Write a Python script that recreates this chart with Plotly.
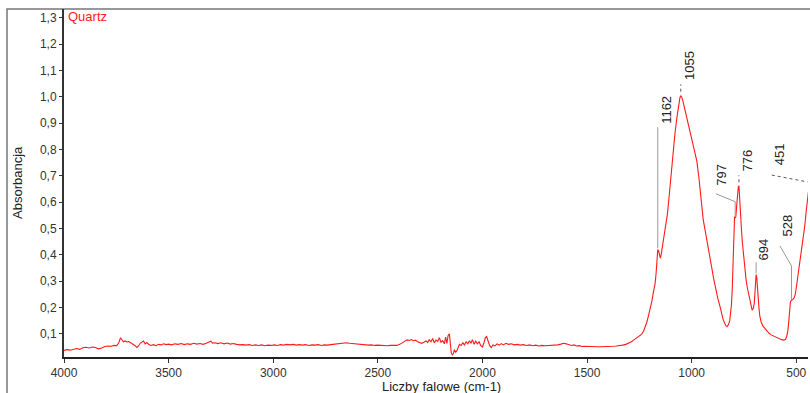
import plotly.graph_objects as go

# Quartz FTIR absorbance spectrum
wavenumber = [
    4000, 3985, 3970, 3955, 3940, 3925, 3910, 3895, 3880, 3865, 3850, 3835, 3820, 3805, 3790, 3775,
    3760, 3748, 3738, 3730, 3724, 3716, 3708, 3700, 3690, 3680, 3670, 3660, 3652, 3644, 3636, 3628,
    3620, 3612, 3604, 3596, 3585, 3572, 3560, 3548, 3536, 3524, 3512, 3500, 3485, 3470, 3455, 3440,
    3425, 3410, 3395, 3380, 3365, 3350, 3335, 3320, 3305, 3298, 3290, 3278, 3265, 3250, 3235, 3220,
    3205, 3190, 3175, 3160, 3145, 3130, 3115, 3100, 3085, 3070, 3055, 3040, 3025, 3010, 2995, 2980,
    2965, 2950, 2935, 2920, 2905, 2890, 2875, 2860, 2845, 2830, 2815, 2800, 2785, 2770, 2755, 2740,
    2725, 2710, 2695, 2680, 2665, 2650, 2635, 2620, 2605, 2590, 2575, 2560, 2545, 2530, 2515, 2500,
    2485, 2470, 2455, 2440, 2425, 2410, 2395, 2380, 2370, 2360, 2350, 2340, 2330, 2320, 2310, 2300,
    2290, 2280, 2270, 2262, 2254, 2246, 2238, 2230, 2222, 2214, 2206, 2198, 2190, 2182, 2176, 2170,
    2164, 2158, 2153, 2149, 2144, 2139, 2134, 2128, 2122, 2116, 2110, 2102, 2094, 2086, 2078, 2070,
    2062, 2055, 2048, 2040, 2032, 2024, 2016, 2008, 2000, 1992, 1986, 1980, 1974, 1966, 1958, 1950,
    1940, 1930, 1920, 1910, 1900, 1888, 1876, 1862, 1848, 1834, 1820, 1805, 1790, 1775, 1760, 1745,
    1730, 1715, 1700, 1685, 1670, 1655, 1640, 1625, 1612, 1600, 1588, 1575, 1562, 1550, 1537, 1524,
    1510, 1495, 1480, 1465, 1450, 1435, 1420, 1405, 1390, 1375, 1360, 1345, 1330, 1315, 1300, 1288,
    1276, 1264, 1252, 1240, 1230, 1222, 1214, 1206, 1198, 1190, 1182, 1175, 1170, 1166, 1162, 1158,
    1154, 1150, 1146, 1140, 1132, 1124, 1116, 1108, 1100, 1090, 1080, 1070, 1062, 1056, 1052, 1048,
    1042, 1035, 1025, 1015, 1005, 995, 985, 975, 965, 955, 945, 935, 925, 915, 905, 895,
    885, 875, 865, 857, 850, 842, 836, 830, 824, 818, 814, 810, 806, 802, 799, 797,
    795, 792, 789, 785, 781, 777, 774, 771, 767, 763, 758, 752, 746, 740, 734, 728,
    722, 716, 711, 706, 701, 698, 695, 692, 689, 686, 682, 678, 674, 668, 660, 650,
    640, 630, 620, 610, 600, 590, 580, 570, 560, 552, 546, 540, 535, 531, 528, 524,
    520, 515, 510, 505, 500, 492, 484, 476, 468, 460, 452, 446, 442,
]
absorbance = [
    0.037, 0.040, 0.038, 0.042, 0.044, 0.041, 0.047, 0.049, 0.046, 0.050, 0.048, 0.043, 0.046, 0.052, 0.054, 0.053,
    0.056, 0.055, 0.066, 0.085, 0.078, 0.070, 0.073, 0.069, 0.071, 0.066, 0.062, 0.055, 0.048, 0.054, 0.064, 0.068,
    0.073, 0.062, 0.067, 0.060, 0.056, 0.059, 0.055, 0.060, 0.058, 0.062, 0.059, 0.061, 0.058, 0.062, 0.060, 0.063,
    0.059, 0.062, 0.060, 0.064, 0.061, 0.063, 0.060, 0.064, 0.068, 0.072, 0.065, 0.066, 0.063, 0.066, 0.062, 0.065,
    0.061, 0.063, 0.060, 0.058, 0.059, 0.057, 0.059, 0.056, 0.058, 0.056, 0.058, 0.055, 0.057, 0.056, 0.058, 0.056,
    0.059, 0.057, 0.060, 0.058, 0.060, 0.057, 0.059, 0.057, 0.059, 0.056, 0.058, 0.057, 0.059, 0.056, 0.058, 0.057,
    0.059, 0.060, 0.062, 0.063, 0.065, 0.066, 0.064, 0.063, 0.061, 0.060, 0.058, 0.059, 0.057, 0.058, 0.056, 0.057,
    0.056, 0.057, 0.055, 0.056, 0.057, 0.056, 0.060, 0.066, 0.072, 0.077, 0.075, 0.078, 0.074, 0.076, 0.070, 0.068,
    0.064, 0.068, 0.073, 0.067, 0.078, 0.070, 0.082, 0.066, 0.076, 0.071, 0.085, 0.068, 0.074, 0.062, 0.088, 0.064,
    0.094, 0.100, 0.060, 0.028, 0.020, 0.024, 0.040, 0.030, 0.036, 0.052, 0.060, 0.056, 0.066, 0.058, 0.070, 0.062,
    0.074, 0.064, 0.078, 0.060, 0.072, 0.062, 0.070, 0.055, 0.050, 0.068, 0.086, 0.090, 0.072, 0.056, 0.048, 0.058,
    0.054, 0.062, 0.057, 0.063, 0.058, 0.064, 0.060, 0.062, 0.058, 0.060, 0.057, 0.059, 0.056, 0.058, 0.055, 0.057,
    0.054, 0.056, 0.055, 0.056, 0.055, 0.057, 0.058, 0.061, 0.064, 0.062, 0.059, 0.056, 0.058, 0.054, 0.055, 0.052,
    0.053, 0.052, 0.052, 0.051, 0.051, 0.051, 0.051, 0.052, 0.052, 0.053, 0.054, 0.055, 0.057, 0.060, 0.064, 0.070,
    0.077, 0.083, 0.090, 0.098, 0.110, 0.125, 0.145, 0.170, 0.195, 0.225, 0.262, 0.290, 0.330, 0.385, 0.420, 0.415,
    0.395, 0.388, 0.400, 0.430, 0.470, 0.510, 0.555, 0.620, 0.690, 0.790, 0.860, 0.925, 0.970, 0.998, 1.005, 1.000,
    0.985, 0.960, 0.925, 0.895, 0.862, 0.825, 0.790, 0.755, 0.690, 0.600, 0.535, 0.490, 0.440, 0.400, 0.355, 0.310,
    0.270, 0.235, 0.205, 0.175, 0.155, 0.140, 0.130, 0.128, 0.135, 0.150, 0.175, 0.210, 0.270, 0.360, 0.450, 0.530,
    0.545, 0.540, 0.545, 0.585, 0.630, 0.660, 0.662, 0.630, 0.560, 0.510, 0.450, 0.400, 0.345, 0.305, 0.275, 0.250,
    0.225, 0.205, 0.190, 0.195, 0.215, 0.250, 0.300, 0.325, 0.315, 0.270, 0.229, 0.195, 0.166, 0.145, 0.130, 0.120,
    0.110, 0.102, 0.096, 0.092, 0.088, 0.084, 0.080, 0.078, 0.076, 0.078, 0.090, 0.113, 0.155, 0.200, 0.222, 0.226,
    0.228, 0.232, 0.237, 0.250, 0.275, 0.320, 0.360, 0.410, 0.460, 0.507, 0.570, 0.625, 0.640,
]

# Axis ticks
x_ticks = [4000, 3500, 3000, 2500, 2000, 1500, 1000, 500]
y_ticks = [0.1, 0.2, 0.3, 0.4, 0.5, 0.6, 0.7, 0.8, 0.9, 1.0, 1.1, 1.2, 1.3]

# Peak labels: label text, label anchor (wavenumber, absorbance), leader path, dotted?
peak_labels = ["1162", "1055", "797", "776", "694", "528", "451"]
label_anchor = [(1118, 0.890), (1008, 1.055), (855, 0.655), (731, 0.709), (659, 0.371), (543, 0.463), (579, 0.732)]
leaders = [
    [(1162, 0.425), (1162, 0.885)],
    [(1052, 1.02), (1052, 1.048)],
    [(884, 0.632), (792, 0.602), (792, 0.545)],
    [(774, 0.676), (774, 0.702)],
    [(692, 0.33), (692, 0.372)],
    [(578, 0.434), (523, 0.358), (523, 0.229)],
    [(617, 0.703), (446, 0.677)],
]
leader_dotted = [False, True, False, True, False, False, True]

FONT = "Liberation Sans, Arial, sans-serif"

fig = go.Figure()

fig.add_trace(go.Scatter(
    x=wavenumber, y=absorbance, mode="lines",
    line=dict(color="#ff1a1a", width=1.1),
    hoverinfo="skip", showlegend=False,
))

for path, dotted in zip(leaders, leader_dotted):
    fig.add_trace(go.Scatter(
        x=[p[0] for p in path], y=[p[1] for p in path], mode="lines",
        line=dict(color="#555555" if dotted else "#999999", width=1,
                  dash="dot" if dotted else "solid"),
        hoverinfo="skip", showlegend=False,
    ))

annotations = []
for text, (ax, ay) in zip(peak_labels, label_anchor):
    annotations.append(dict(
        x=ax, y=ay, xref="x", yref="y", text=text, showarrow=False,
        textangle=-90, xanchor="center", yanchor="bottom",
        font=dict(family=FONT, size=13, color="#222222"),
    ))

# sample name in the upper-left corner
annotations.append(dict(
    x=0.003, y=0.978, xref="paper", yref="paper", text="Quartz", showarrow=False,
    xanchor="left", yanchor="middle",
    font=dict(family=FONT, size=13, color="#ff1a1a"),
))
# axis titles
annotations.append(dict(
    x=-(64 - 17) / 744, y=0.5, xref="paper", yref="paper", text="Absorbancja",
    showarrow=False, textangle=-90, xanchor="center", yanchor="middle",
    font=dict(family=FONT, size=13, color="#222222"),
))
annotations.append(dict(
    x=(441 - 64) / 744, y=-(386 - 357) / 348, xref="paper", yref="paper",
    text="Liczby falowe (cm-1)", showarrow=False, xanchor="center", yanchor="middle",
    font=dict(family=FONT, size=13, color="#222222"),
))

fig.update_layout(
    width=810, height=393,
    margin=dict(l=64, r=2, t=9, b=36),
    paper_bgcolor="white", plot_bgcolor="white",
    annotations=annotations,
    shapes=[dict(
        type="rect", xref="paper", yref="paper",
        x0=(7 - 64) / 744, x1=(815 - 64) / 744, y0=-(400 - 357) / 348, y1=1,
        line=dict(color="#777777", width=1.5), layer="below",
    )],
    xaxis=dict(
        range=[4000, 444], tickvals=x_ticks, ticktext=[str(v) for v in x_ticks],
        ticks="outside", ticklen=4, tickcolor="#333333",
        showline=True, linecolor="#222222", linewidth=2,
        showgrid=False, zeroline=False,
        tickfont=dict(family=FONT, size=12, color="#333333"),
    ),
    yaxis=dict(
        range=[0.012, 1.334], tickvals=y_ticks,
        ticktext=[f"{v:.1f}".replace(".", ",") for v in y_ticks],
        ticks="outside", ticklen=3, tickcolor="#333333",
        showline=True, linecolor="#333333", linewidth=2,
        showgrid=False, zeroline=False,
        tickfont=dict(family=FONT, size=12, color="#333333"),
    ),
)

fig.write_html("out.html")
